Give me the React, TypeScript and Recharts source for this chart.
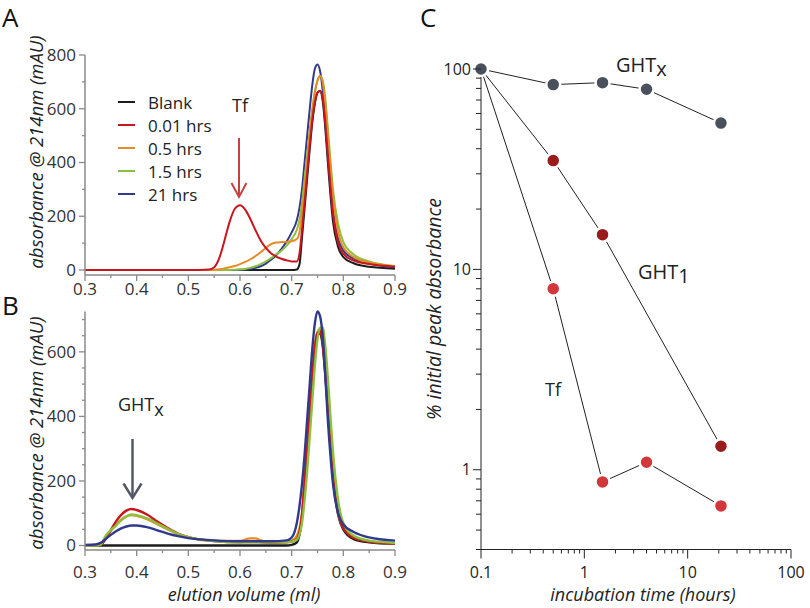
import React from 'react';
import { LineChart, Line, XAxis, YAxis } from 'recharts';

// ---- panel A: chromatograms of Tf incubations ----
const elutionA = [0.30, 0.40, 0.50, 0.54, 0.55, 0.56, 0.57, 0.58, 0.59, 0.60, 0.61, 0.62, 0.63, 0.64, 0.65, 0.66, 0.67, 0.68, 0.69, 0.70, 0.71, 0.715, 0.72, 0.725, 0.73, 0.735, 0.74, 0.745, 0.75, 0.755, 0.76, 0.765, 0.77, 0.775, 0.78, 0.79, 0.80, 0.82, 0.85, 0.90];
const blankA = [0, 0, 0, 0, 0, 0, 0, 0, 0, 0, 0, 0, 0, 0, 0, 0, 0, 0, 0, 0, 2, 20, 120, 230, 340, 450, 550, 620, 660, 665, 630, 530, 400, 280, 180, 85, 48, 25, 12, 5];
const hrs001A = [0, 0, 0, 2, 10, 45, 110, 180, 228, 241, 225, 190, 148, 110, 82, 62, 50, 42, 36, 32, 32, 60, 150, 250, 360, 465, 560, 625, 660, 667, 640, 550, 430, 310, 210, 100, 60, 35, 22, 12];
const hrs05A = [0, 0, 0, 0, 1, 3, 6, 10, 15, 22, 30, 40, 52, 66, 82, 96, 102, 104, 105, 107, 115, 140, 210, 300, 400, 500, 590, 660, 705, 722, 700, 620, 500, 380, 270, 140, 85, 48, 28, 14];
const hrs15A = [0, 0, 0, 0, 0, 0, 0, 0, 1, 2, 4, 8, 14, 22, 32, 44, 58, 72, 90, 115, 150, 185, 250, 340, 430, 520, 600, 665, 705, 722, 705, 640, 530, 410, 300, 170, 105, 58, 32, 15];
const hrs21A = [0, 0, 0, 0, 0, 0, 0, 0, 0, 1, 2, 4, 8, 14, 24, 38, 55, 78, 105, 140, 185, 230, 300, 400, 500, 600, 690, 750, 765, 740, 670, 560, 430, 320, 220, 115, 72, 42, 24, 10];

// ---- panel B: chromatograms of GHTx incubations ----
const elutionB = [0.30, 0.32, 0.33, 0.34, 0.35, 0.36, 0.37, 0.38, 0.39, 0.40, 0.42, 0.44, 0.46, 0.48, 0.50, 0.55, 0.60, 0.62, 0.63, 0.64, 0.66, 0.69, 0.70, 0.71, 0.72, 0.725, 0.73, 0.735, 0.74, 0.745, 0.75, 0.755, 0.76, 0.765, 0.77, 0.775, 0.78, 0.79, 0.80, 0.82, 0.85, 0.90];
const blankB = [0, 0, 0, 0, 0, 0, 0, 0, 0, 0, 0, 0, 0, 0, 0, 0, 0, 0, 0, 0, 0, 0, 2, 10, 90, 190, 300, 410, 520, 610, 650, 658, 620, 530, 420, 310, 210, 95, 50, 20, 10, 5];
const hrs001B = [0, 0, 2, 20, 48, 75, 95, 108, 113, 110, 96, 74, 54, 37, 26, 14, 10, 11, 11, 10, 9, 10, 12, 20, 95, 195, 305, 415, 525, 615, 658, 665, 628, 540, 430, 315, 215, 100, 55, 24, 12, 6];
const hrs05B = [0, 0, 2, 22, 45, 65, 80, 90, 94, 92, 82, 66, 50, 35, 25, 14, 14, 22, 22, 16, 10, 12, 15, 30, 100, 200, 310, 420, 530, 620, 662, 670, 640, 555, 440, 320, 215, 100, 55, 25, 13, 6];
const hrs15B = [0, 0, 3, 30, 48, 62, 78, 90, 96, 94, 84, 68, 52, 36, 26, 14, 10, 10, 10, 10, 10, 11, 12, 18, 70, 140, 230, 340, 450, 560, 640, 675, 675, 620, 520, 400, 290, 140, 70, 30, 15, 8];
const hrs21B = [2, 3, 8, 20, 33, 44, 53, 59, 62, 62, 57, 47, 37, 29, 23, 16, 13, 13, 13, 13, 13, 16, 25, 70, 190, 280, 390, 500, 610, 690, 725, 710, 650, 530, 390, 280, 190, 100, 65, 42, 25, 15];

// ---- panel C: peak decay (log-log) ----
const ghtxTime = [0.1, 0.5, 1.5, 4, 21];
const ghtxPct = [100, 83.6, 85.5, 79.2, 53.7];
const ght1Time = [0.1, 0.5, 1.5, 21];
const ght1Pct = [100, 34.9, 14.9, 1.31];
const tfTime = [0.1, 0.5, 1.5, 4, 21];
const tfPct = [100, 8.0, 0.87, 1.09, 0.66];

// ticks
const elutionTicks = [0.3, 0.35, 0.4, 0.45, 0.5, 0.55, 0.6, 0.65, 0.7, 0.75, 0.8, 0.85, 0.9];
const absTicksA = [0, 100, 200, 300, 400, 500, 600, 700, 800];
const absTicksB = [0, 50, 100, 150, 200, 250, 300, 350, 400, 450, 500, 550, 600, 650, 700];
const timeTicks = [0.1, 0.2, 0.3, 0.4, 0.5, 0.6, 0.7, 0.8, 0.9, 1, 2, 3, 4, 5, 6, 7, 8, 9, 10, 20, 30, 40, 50, 60, 70, 80, 90, 100];
const pctTicks = [0.4, 0.5, 0.6, 0.7, 0.8, 0.9, 1, 2, 3, 4, 5, 6, 7, 8, 9, 10, 20, 30, 40, 50, 60, 70, 80, 90, 100];

const legendNames = ['Blank', '0.01 hrs', '0.5 hrs', '1.5 hrs', '21 hrs'];
const seriesKeys = ['blank', 'h001', 'h05', 'h15', 'h21'];
const seriesColors = ['#1c1c1c', '#c8161e', '#e88a28', '#8cc03c', '#2f3a8e'];

const font = '"Open Sans", "Noto Sans", sans-serif';
const axisGray = '#8a8a8a';

const rowsA = elutionA.map((v, i) => ({ v, blank: blankA[i], h001: hrs001A[i], h05: hrs05A[i], h15: hrs15A[i], h21: hrs21A[i] }));
const rowsB = elutionB.map((v, i) => ({ v, blank: blankB[i], h001: hrs001B[i], h05: hrs05B[i], h15: hrs15B[i], h21: hrs21B[i] }));
const ghtxData = ghtxTime.map((t, i) => ({ t, p: ghtxPct[i] }));
const ght1Data = ght1Time.map((t, i) => ({ t, p: ght1Pct[i] }));
const tfData = tfTime.map((t, i) => ({ t, p: tfPct[i] }));

const ElutionTick = ({ x, y, payload, labelDy }: any) => {
  const major = Math.abs(payload.value * 10 - Math.round(payload.value * 10)) < 1e-6;
  return (
    <g>
      <line x1={x} x2={x} y1={y} y2={y + (major ? 6 : 3)} stroke={axisGray} strokeWidth={1.3} />
      {major && (
        <text x={x} y={y + labelDy} textAnchor="middle" fontSize={17} fill="#333" fontFamily={font}>
          {payload.value.toFixed(1)}
        </text>
      )}
    </g>
  );
};

const AbsTick = ({ x, y, payload }: any) => {
  const major = payload.value % 200 === 0;
  return (
    <g>
      <line x1={x - (major ? 6 : 3)} x2={x} y1={y} y2={y} stroke={axisGray} strokeWidth={1.3} />
      {major && (
        <text x={x - 9} y={y} dy="0.35em" textAnchor="end" fontSize={17} fill="#333" fontFamily={font}>
          {payload.value}
        </text>
      )}
    </g>
  );
};

const isDecade = (v: number) => Math.abs(Math.log10(v) - Math.round(Math.log10(v))) < 1e-9;

const TimeTick = ({ x, y, payload }: any) => {
  const major = isDecade(payload.value);
  return (
    <g>
      <line x1={x} x2={x} y1={y} y2={y + (major ? 9 : 4)} stroke="#222" strokeWidth={1} />
      {major && (
        <text x={x} y={y + 28} textAnchor="middle" fontSize={16} fill="#222" fontFamily={font}>
          {String(payload.value)}
        </text>
      )}
    </g>
  );
};

const PctTick = ({ x, y, payload }: any) => {
  const major = isDecade(payload.value);
  return (
    <g>
      <line x1={x - (major ? 8 : 5)} x2={x} y1={y} y2={y} stroke="#222" strokeWidth={1} />
      {major && (
        <text x={x - 10} y={y} dy="0.35em" textAnchor="end" fontSize={16} fill="#222" fontFamily={font}>
          {String(payload.value)}
        </text>
      )}
    </g>
  );
};

// dots for the decay series; the shared 0.1 h point is drawn by GHTx only
const makeDot = (color: string, skipFirst: boolean) => (props: any) => {
  const { cx, cy, index, key } = props;
  if (skipFirst && index === 0) return <g key={key} />;
  return <circle key={key} cx={cx} cy={cy} r={7} fill={color} stroke="#fff" strokeWidth={2.5} />;
};

const Chromatogram = ({ rows, domain, ticks, top, labelDy, order }: any) => (
  <LineChart width={420} height={top === 55 ? 300 : 308} data={rows} margin={{ top, right: 25, bottom: 0, left: 0 }}>
    <XAxis
      dataKey="v"
      type="number"
      domain={[0.3, 0.9]}
      ticks={elutionTicks}
      interval={0}
      height={top === 55 ? 25 : 58}
      tickSize={0}
      tickMargin={0}
      tickLine={false}
      axisLine={{ stroke: axisGray, strokeWidth: 1.5 }}
      tick={(p: any) => <ElutionTick {...p} labelDy={labelDy} />}
    />
    <YAxis
      type="number"
      domain={domain}
      ticks={ticks}
      interval={0}
      width={85}
      tickSize={0}
      tickMargin={0}
      tickLine={false}
      axisLine={{ stroke: axisGray, strokeWidth: 1.5 }}
      tick={(p: any) => <AbsTick {...p} />}
    />
    {order.map((i: number) => (
      <Line
        key={seriesKeys[i]}
        dataKey={seriesKeys[i]}
        type="monotone"
        stroke={seriesColors[i]}
        strokeWidth={top === 55 ? 2 : 2.4}
        dot={false}
        activeDot={false}
        isAnimationActive={false}
      />
    ))}
  </LineChart>
);

export default function App() {
  return (
    <div style={{ position: 'absolute', left: 0, top: 0, width: 810, height: 608, background: '#fff', fontFamily: font }}>
      <div style={{ position: 'absolute', left: 0, top: 0 }}>
        <Chromatogram rows={rowsA} domain={[-18.6, 800]} ticks={absTicksA} top={55} labelDy={20} order={[0, 4, 3, 2, 1]} />
      </div>
      <div style={{ position: 'absolute', left: 0, top: 300 }}>
        <Chromatogram rows={rowsB} domain={[-13.9, 721.8]} ticks={absTicksB} top={11.5} labelDy={28} order={[0, 2, 1, 3, 4]} />
      </div>
      <div style={{ position: 'absolute', left: 420, top: 0 }}>
        <LineChart width={390} height={608} margin={{ top: 69, right: 19, bottom: 0, left: 0 }}>
          <XAxis
            dataKey="t"
            type="number"
            scale="log"
            domain={[0.1, 100]}
            ticks={timeTicks}
            interval={0}
            height={58.5}
            tickSize={0}
            tickMargin={0}
            tickLine={false}
            axisLine={{ stroke: '#222', strokeWidth: 1 }}
            tick={(p: any) => <TimeTick {...p} />}
            allowDuplicatedCategory={false}
          />
          <YAxis
            dataKey="p"
            type="number"
            scale="log"
            domain={[0.4, 100]}
            ticks={pctTicks}
            interval={0}
            width={61}
            tickSize={0}
            tickMargin={0}
            tickLine={false}
            axisLine={{ stroke: '#222', strokeWidth: 1 }}
            tick={(p: any) => <PctTick {...p} />}
          />
          <Line data={tfData} dataKey="p" stroke="#222" strokeWidth={1} dot={makeDot('#d3373b', true)} activeDot={false} isAnimationActive={false} />
          <Line data={ght1Data} dataKey="p" stroke="#222" strokeWidth={1} dot={makeDot('#9a1b1c', true)} activeDot={false} isAnimationActive={false} />
          <Line data={ghtxData} dataKey="p" stroke="#222" strokeWidth={1} dot={makeDot('#4a505c', false)} activeDot={false} isAnimationActive={false} />
        </LineChart>
      </div>

      <svg width={810} height={608} style={{ position: 'absolute', left: 0, top: 0, pointerEvents: 'none' }} fontFamily={font}>
        <text x={2} y={27} fontSize={26} fill="#111">A</text>
        <text x={2} y={315} fontSize={26} fill="#111">B</text>
        <text x={420} y={27} fontSize={26} fill="#111">C</text>

        <text x={35} y={152} transform="rotate(-90 35 152)" textAnchor="middle" dominantBaseline="central" fontSize={18.5} fontStyle="italic" fill="#222">absorbance @ 214nm (mAU)</text>
        <text x={35} y={433} transform="rotate(-90 35 433)" textAnchor="middle" dominantBaseline="central" fontSize={18.5} fontStyle="italic" fill="#222">absorbance @ 214nm (mAU)</text>
        <text x={244} y={601} textAnchor="middle" fontSize={18} fontStyle="italic" fill="#222">elution volume (ml)</text>
        <text x={433} y={309} transform="rotate(-90 433 309)" textAnchor="middle" dominantBaseline="central" fontSize={19.5} fontStyle="italic" fill="#222">% initial peak absorbance</text>
        <text x={643} y={601} textAnchor="middle" fontSize={18} fontStyle="italic" fill="#222">incubation time (hours)</text>

        {legendNames.map((name, i) => (
          <g key={name}>
            <line x1={118} x2={135} y1={102 + i * 23} y2={102 + i * 23} stroke={seriesColors[i]} strokeWidth={2} />
            <text x={148} y={102 + i * 23} dominantBaseline="central" fontSize={17} fill="#222">{name}</text>
          </g>
        ))}

        <text x={232} y={112} fontSize={18} fill="#222">Tf</text>
        <line x1={239} x2={239} y1={138} y2={196} stroke="#c8413f" strokeWidth={2} />
        <polyline points="231.5,183 239,197 246.5,183" fill="none" stroke="#c8413f" strokeWidth={2} />

        <text x={118} y={411} fontSize={18} fill="#222">GHT<tspan dy={4.5}>x</tspan></text>
        <line x1={132.5} x2={132.5} y1={439} y2={496} stroke="#535863" strokeWidth={2.5} />
        <polyline points="123.5,483.5 132.5,498 141.5,483.5" fill="none" stroke="#535863" strokeWidth={2.5} />

        <text x={616} y={72} fontSize={20} fill="#222">GHT<tspan dy={4}>x</tspan></text>
        <text x={638} y={279} fontSize={20} fill="#222">GHT<tspan dy={4}>1</tspan></text>
        <text x={545} y={396} fontSize={18} fill="#222">Tf</text>
      </svg>
    </div>
  );
}
